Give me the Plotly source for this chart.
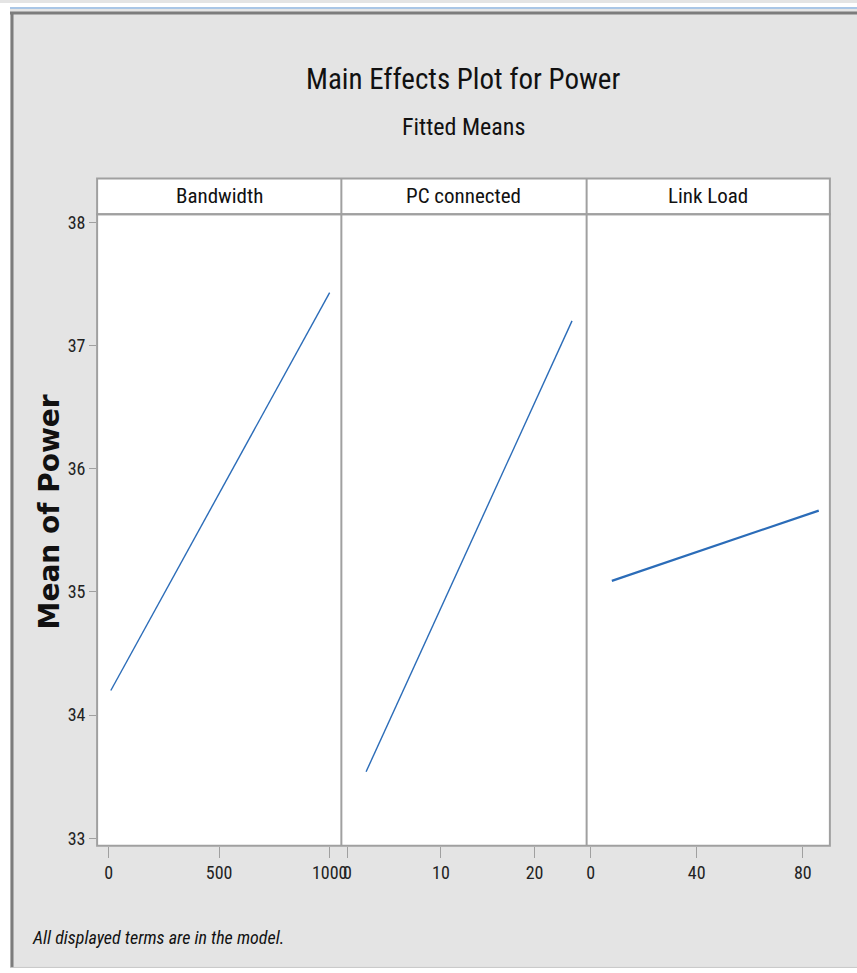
import plotly.graph_objects as go

W, H = 857, 973

# ---- data ----
factors = ["Bandwidth", "PC connected", "Link Load"]
bandwidth_x = [10, 1000]
bandwidth_mean = [34.20, 37.43]
pc_x = [2, 24]
pc_mean = [33.54, 37.20]
load_x = [8, 86]
load_mean = [35.09, 35.66]
y_ticks = [33, 34, 35, 36, 37, 38]
x_ticks = [[0, 500, 1000], [0, 10, 20], [0, 40, 80]]

# ---- layout geometry (target pixels, compensated for slight render scaling) ----
SX, SY = 0.992, 0.997
FW, FH = round(W / SX), round(H / SY)   # figure size so the picture fills the window


def px(x):
    return min(1.0, x / (FW * SX))


def py(y):
    return max(0.0, 1 - y / (FH * SY))


left, right = 97, 829
div1, div2 = 341, 586
strip_top, plot_top, plot_bot = 176, 212, 845.5

NARROW = "Liberation Sans Narrow, Roboto Condensed, Arial Narrow, sans-serif"
LINE = "#2b6cb8"
GRID = "#a0a0a0"

fig = go.Figure()
fig.add_trace(go.Scatter(x=bandwidth_x, y=bandwidth_mean, mode="lines",
                         line=dict(color=LINE, width=1.4), xaxis="x", yaxis="y",
                         showlegend=False))
fig.add_trace(go.Scatter(x=pc_x, y=pc_mean, mode="lines",
                         line=dict(color=LINE, width=1.4), xaxis="x2", yaxis="y",
                         showlegend=False))
fig.add_trace(go.Scatter(x=load_x, y=load_mean, mode="lines",
                         line=dict(color=LINE, width=2.2), xaxis="x3", yaxis="y",
                         showlegend=False))

tickfont = dict(family=NARROW, size=18, color="#222222")
xcommon = dict(anchor="y", ticks="outside", ticklen=11, tickcolor=GRID, tickwidth=1,
               showgrid=False, zeroline=False, showline=False, tickfont=tickfont)

fig.update_layout(
    width=FW, height=FH,
    margin=dict(l=0, r=0, t=0, b=0),
    paper_bgcolor="#e4e4e4",
    plot_bgcolor="white",
    xaxis=dict(domain=[px(left), px(div1)], range=[-52, 1053], tickvals=x_ticks[0], **xcommon),
    xaxis2=dict(domain=[px(div1), px(div2)], range=[-0.64, 25.56], tickvals=x_ticks[1], **xcommon),
    xaxis3=dict(domain=[px(div2), px(right)], range=[-1.5, 90.2], tickvals=x_ticks[2], **xcommon),
    yaxis=dict(domain=[py(plot_bot), py(plot_top)], range=[32.939, 38.065], anchor="x",
               tickvals=y_ticks, ticks="outside", ticklen=7, tickcolor=GRID,
               showgrid=False, zeroline=False, showline=False, tickfont=tickfont),
)

shapes = []
# outer window frame
shapes.append(dict(type="rect", xref="paper", yref="paper", x0=0, x1=1, y0=py(4), y1=1,
                   fillcolor="white", line=dict(width=0), layer="above"))
shapes.append(dict(type="rect", xref="paper", yref="paper", x0=0, x1=px(10), y0=0, y1=1,
                   fillcolor="white", line=dict(width=0), layer="above"))
shapes.append(dict(type="rect", xref="paper", yref="paper", x0=0, x1=1, y0=0, y1=py(968),
                   fillcolor="white", line=dict(width=0), layer="above"))
shapes.append(dict(type="line", xref="paper", yref="paper", x0=px(10), x1=1, y0=py(5), y1=py(5),
                   line=dict(color="#a9c6e6", width=2), layer="above"))
shapes.append(dict(type="line", xref="paper", yref="paper", x0=px(10), x1=1, y0=py(10), y1=py(10),
                   line=dict(color="#7c7c7c", width=3), layer="above"))
shapes.append(dict(type="line", xref="paper", yref="paper", x0=px(12), x1=px(12), y0=py(968), y1=py(9),
                   line=dict(color="#7c7c7c", width=3), layer="above"))
shapes.append(dict(type="line", xref="paper", yref="paper", x0=px(10), x1=1, y0=py(967.5), y1=py(967.5),
                   line=dict(color="#c8c8c8", width=1), layer="above"))
# strip
shapes.append(dict(type="rect", xref="paper", yref="paper", x0=px(left), x1=px(right),
                   y0=py(plot_top), y1=py(strip_top), fillcolor="white",
                   line=dict(color=GRID, width=2), layer="below"))
# plot area outline
shapes.append(dict(type="rect", xref="paper", yref="paper", x0=px(left), x1=px(right),
                   y0=py(plot_bot), y1=py(plot_top), line=dict(color=GRID, width=2), layer="above"))
# panel dividers
for d in (div1, div2):
    shapes.append(dict(type="line", xref="paper", yref="paper", x0=px(d), x1=px(d),
                       y0=py(plot_bot), y1=py(strip_top), line=dict(color=GRID, width=2), layer="above"))
fig.update_layout(shapes=shapes)

annotations = []
annotations.append(dict(text="Main Effects Plot for Power", xref="paper", yref="paper",
                        x=px(463), y=py(76), xanchor="center", yanchor="middle", showarrow=False,
                        font=dict(family=NARROW, size=29, color="#111111")))
annotations.append(dict(text="Fitted Means", xref="paper", yref="paper",
                        x=px(463), y=py(124), xanchor="center", yanchor="middle", showarrow=False,
                        font=dict(family=NARROW, size=24, color="#111111")))
centers = [(left + div1) / 2, (div1 + div2) / 2, (div2 + right) / 2]
for name, c in zip(factors, centers):
    annotations.append(dict(text=name, xref="paper", yref="paper", x=px(c), y=py(194),
                            xanchor="center", yanchor="middle", showarrow=False,
                            font=dict(family=NARROW, size=21, color="#111111")))
annotations.append(dict(text="<b>Mean of Power</b>", xref="paper", yref="paper",
                        x=px(49), y=py(511), xanchor="center", yanchor="middle", showarrow=False,
                        textangle=-90, font=dict(family="DejaVu Sans", size=28, color="#111111")))
annotations.append(dict(text="<i>All displayed terms are in the model.</i>", xref="paper", yref="paper",
                        x=px(30), y=py(937), xanchor="left", yanchor="middle", showarrow=False,
                        font=dict(family=NARROW, size=18, color="#111111")))
fig.update_layout(annotations=annotations)

fig.write_html("out.html")
